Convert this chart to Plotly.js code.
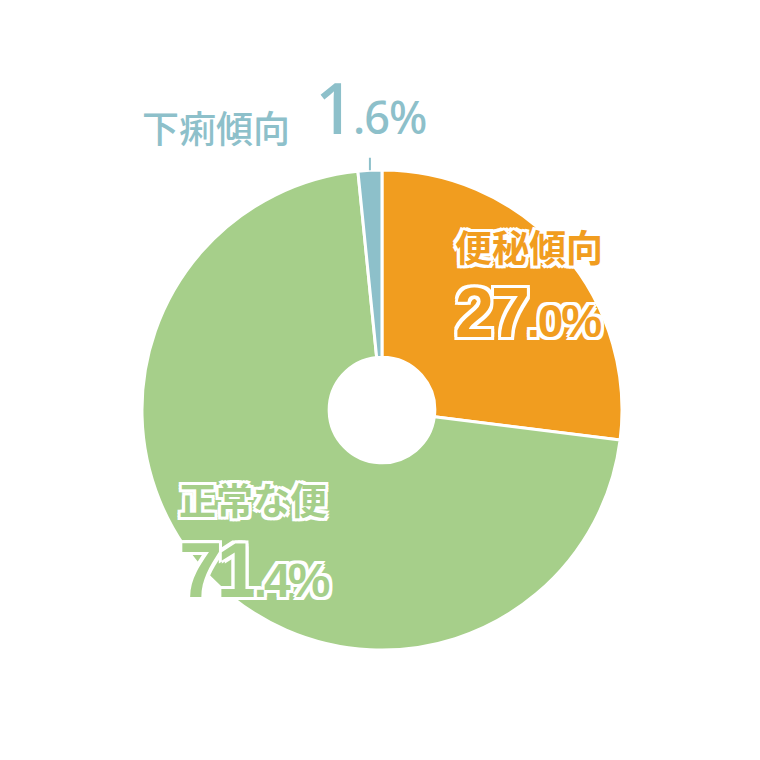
<!DOCTYPE html>
<html>
<head>
<meta charset="utf-8">
<script src="https://cdn.plot.ly/plotly-3.0.1.min.js"></script>
<style>
  html, body { margin: 0; padding: 0; background: #fff; }
  #chart { width: 760px; height: 760px; }
</style>
</head>
<body>
<div id="chart"></div>
<script>
// slices, clockwise from 12 o'clock
const labels = ['便秘傾向', '正常な便', '下痢傾向'];
const values = [27.0, 71.4, 1.6];
const intPart = ['27', '71', '1'];
const decPart = ['.0%', '.4%', '.6%'];
const colors = ['#F19D1F', '#A6CF8A', '#8DC0CA'];

const W = 760, H = 760;
const domX = [0.1868, 0.8184];
const domY = [0.1447, 0.7763];

const outline = [
  '-3px -3px 0 #fff', '3px -3px 0 #fff', '-3px 3px 0 #fff', '3px 3px 0 #fff',
  '0 -3px 0 #fff', '0 3px 0 #fff', '-3px 0 0 #fff', '3px 0 0 #fff'
].join(', ');

const trace = {
  type: 'pie',
  labels: labels,
  values: values,
  sort: false,
  direction: 'clockwise',
  rotation: 0,
  hole: 0.22,
  textinfo: 'none',
  hoverinfo: 'none',
  showlegend: false,
  marker: { colors: colors, line: { color: '#ffffff', width: 3 } },
  domain: { x: domX, y: domY }
};

// leader for the small slice: point on the outer rim at its mid angle
const total = values.reduce((a, b) => a + b, 0);
const midFrac = (total - values[2] / 2) / total;
const ang = midFrac * 2 * Math.PI;
const cx = (domX[0] + domX[1]) / 2, cy = (domY[0] + domY[1]) / 2;
const rPx = (domX[1] - domX[0]) * W / 2;
const rimX = cx + Math.sin(ang) * rPx / W;
const rimY = cy + Math.cos(ang) * rPx / H;

function num(i, big, small, lsBig, lsSmall) {
  return '<span style="font-size:' + big + 'px;letter-spacing:' + lsBig + 'px">' + intPart[i] + '</span>' +
         '<span style="font-size:' + small + 'px;letter-spacing:' + lsSmall + 'px">' + decPart[i] + '</span>';
}

// label on line one, value on line two; base size sets the line gap
function block(i, big, small, lsBig, lsSmall) {
  return '<span style="font-family:\'Noto Sans CJK JP\';font-size:37px;letter-spacing:0px">' + labels[i] + '</span>' +
         '<br>' + num(i, big, small, lsBig, lsSmall);
}

const annotations = [
  { text: labels[2], x: 216 / W, y: 1 - 127 / H, xanchor: 'center', yanchor: 'middle',
    font: { family: 'Noto Sans CJK JP', size: 37, weight: 500, color: colors[2] } },
  { text: num(2, 70, 45, -2, -1), x: 313 / W, y: 1 - 107 / H, xanchor: 'left', yanchor: 'middle',
    font: { family: 'Noto Sans', size: 45, weight: 500, color: colors[2] } },
  { text: '', x: rimX, y: rimY, showarrow: true, arrowhead: 0, arrowwidth: 2,
    arrowcolor: colors[2], ax: 0, ay: -14, axref: 'pixel', ayref: 'pixel' },

  { text: block(0, 70, 46, -3, -2), x: 453 / W, y: 1 - 285 / H, xanchor: 'left', yanchor: 'middle',
    align: 'left',
    font: { family: 'Liberation Sans', size: 58, weight: 'bold', color: colors[0], shadow: outline } },

  { text: block(1, 78, 48, -6, -3), x: 177 / W, y: 1 - 543 / H, xanchor: 'left', yanchor: 'middle',
    align: 'left',
    font: { family: 'Liberation Sans', size: 63, weight: 'bold', color: colors[1], shadow: outline } }
].map(a => Object.assign({ xref: 'paper', yref: 'paper', showarrow: false }, a));

const layout = {
  width: W,
  height: H,
  margin: { l: 0, r: 0, t: 0, b: 0 },
  paper_bgcolor: '#ffffff',
  plot_bgcolor: '#ffffff',
  annotations: annotations
};

Plotly.newPlot('chart', [trace], layout, { staticPlot: true, displayModeBar: false });
</script>
</body>
</html>
